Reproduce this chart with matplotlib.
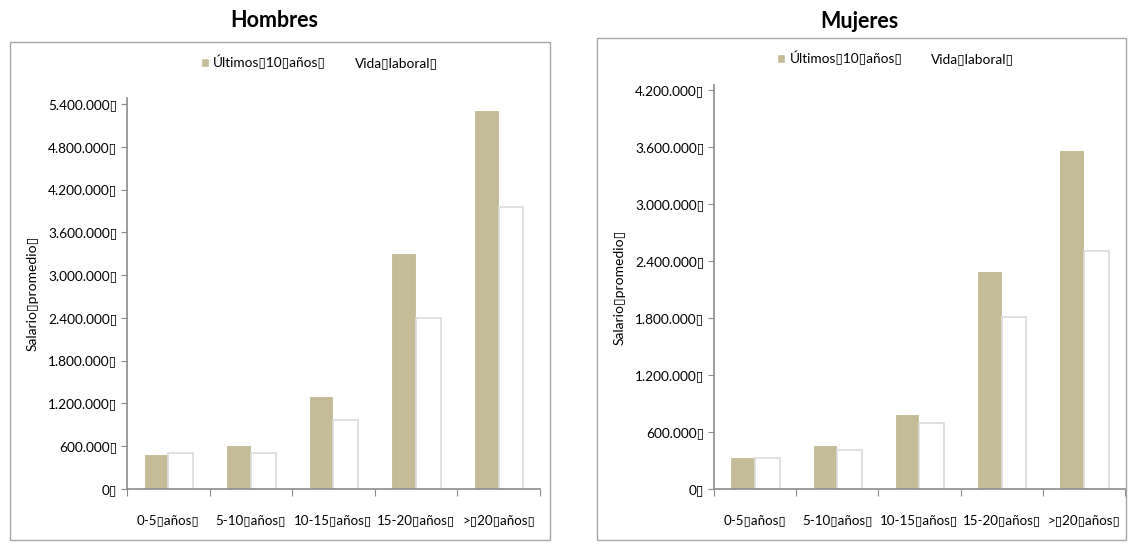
import matplotlib
matplotlib.use("Agg")
import matplotlib.pyplot as plt
from matplotlib.patches import Rectangle, Patch

plt.rcParams['font.family'] = ['Lato', 'DejaVu Sans']

B = "\u25af"  # the broken-glyph box seen in the original

categorias = ["0-5" + B + "años" + B, "5-10" + B + "años" + B, "10-15" + B + "años" + B,
              "15-20" + B + "años" + B, ">" + B + "20" + B + "años" + B]
hombres_ult10 = [491000, 617000, 1300000, 3310000, 5320000]
hombres_vida = [509000, 509000, 970000, 2400000, 3960000]
mujeres_ult10 = [335000, 459000, 785000, 2290000, 3570000]
mujeres_vida = [330000, 413000, 692000, 1810000, 2500000]
hombres_ticks = [0, 600000, 1200000, 1800000, 2400000, 3000000, 3600000, 4200000, 4800000, 5400000]
mujeres_ticks = [0, 600000, 1200000, 1800000, 2400000, 3000000, 3600000, 4200000]

tan = "#c4bc96"
gris = "#8c8c8c"


def fmt(v):
    return "{:,}".format(v).replace(",", ".") + B


def panel(rect, ult, vida, ticks, ymax, titulo, frame, title_xy, leg_xy):
    fig.patches.append(Rectangle((frame[0], frame[1]), frame[2], frame[3],
                                 transform=fig.transFigure, fill=False,
                                 edgecolor="#a6a6a6", linewidth=1))
    fig.text(title_xy[0], title_xy[1], titulo, ha="center", va="center",
             fontsize=15.5, fontweight="bold")
    ax = fig.add_axes(rect)
    x = list(range(len(categorias)))
    w = 0.3
    ax.bar([i - w / 2 for i in x], ult, width=w, color=tan, edgecolor="white", linewidth=0.8)
    ax.bar([i + w / 2 for i in x], vida, width=w, color="white", edgecolor="#dcdcdc", linewidth=1.2)
    ax.set_xlim(-0.5, len(categorias) - 0.5)
    ax.set_ylim(0, ymax)
    ax.set_yticks(ticks)
    ax.set_yticklabels([fmt(t) for t in ticks], fontsize=9.8)
    ax.set_xticks([i - 0.5 for i in range(len(categorias) + 1)])
    ax.set_xticklabels([])
    ax.set_xticks(x, minor=True)
    ax.set_xticklabels(categorias, minor=True, fontsize=9.6)
    ax.tick_params(axis="x", which="minor", length=0, pad=18)
    ax.tick_params(axis="x", which="major", length=5, color=gris)
    ax.tick_params(axis="y", length=4, color=gris, pad=3)
    for s in ["top", "right"]:
        ax.spines[s].set_visible(False)
    for s in ["left", "bottom"]:
        ax.spines[s].set_color(gris)
        ax.spines[s].set_linewidth(1.2)
    ax.set_ylabel("Salario" + B + "promedio" + B, fontsize=10)
    ax.yaxis.set_label_coords(-0.215, 0.5)
    handles = [Patch(facecolor=tan, edgecolor="white"), Patch(facecolor="white", edgecolor="white")]
    fig.legend(handles, ["Últimos" + B + "10" + B + "años" + B, "Vida" + B + "laboral" + B],
               loc="center", bbox_to_anchor=leg_xy, ncol=2, frameon=False,
               fontsize=9.8, handlelength=0.6, handleheight=0.6,
               handletextpad=0.3, columnspacing=1.2)
    return ax


fig = plt.figure(figsize=(11.28, 5.44), dpi=100)

panel([0.1126, 0.1011, 0.3661, 0.7182], hombres_ult10, hombres_vida, hombres_ticks, 5480000,
      "Hombres", [0.0089, 0.0074, 0.4787, 0.9154], (0.243, 0.963), (0.283, 0.886))
panel([0.633, 0.1011, 0.3643, 0.7423], mujeres_ult10, mujeres_vida, mujeres_ticks, 4250000,
      "Mujeres", [0.5293, 0.0074, 0.4690, 0.9228], (0.762, 0.96), (0.794, 0.893))

fig.savefig("out.png", dpi=100)
